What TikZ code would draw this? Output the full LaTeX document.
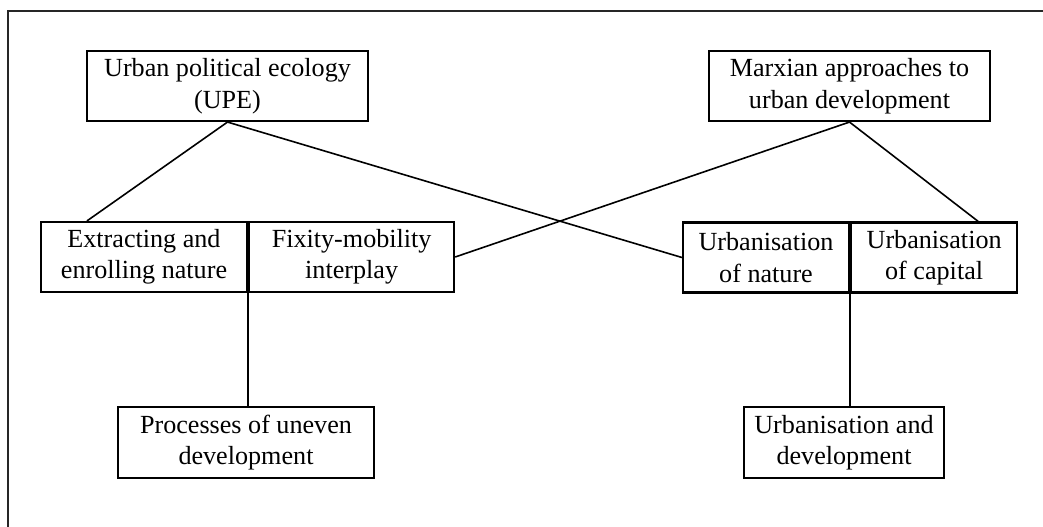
\documentclass[tikz,border=0pt]{standalone}
\usepackage{fontspec}
\setmainfont{Liberation Serif}
\usetikzlibrary{calc}
\tikzset{
  concept/.style={draw=black, line width=1.6pt, inner sep=0pt, align=center,
    minimum height=52.5pt, font=\fontsize{19.6}{23.6}\selectfont},
  link/.style={draw=black, line width=1.2pt},
  frame/.style={draw=black!85, line width=1.1pt}
}
\begin{document}
\begin{tikzpicture}[x=0.75pt,y=-0.75pt]
  \useasboundingbox (0,0) rectangle (1043,527);
  % outer frame (top and left edges)
  \coordinate (fr-tl) at (8,11);
  \coordinate (fr-tr) at (1043,11);
  \coordinate (fr-bl) at (8,527);
  \draw[frame] (fr-bl) -- (fr-tl) -- (fr-tr);

  % top row
  \node[concept, minimum width=210.75pt] (upe) at (227.5,86)
    {Urban political ecology\\(UPE)};
  \node[concept, minimum width=210.75pt] (marx) at (849.5,86)
    {Marxian approaches to\\urban development};

  % middle row, left pair
  \node[concept, minimum width=154.5pt] (extr) at (144,257)
    {Extracting and\\enrolling nature};
  \node[concept, minimum width=153.75pt, anchor=west] (fix) at (extr.east)
    {Fixity-mobility\\interplay};

  % middle row, right pair
  \node[concept, minimum width=124.5pt] (unat) at (766,257.5)
    {Urbanisation\\of nature};
  \node[concept, minimum width=124.5pt, anchor=west] (ucap) at (unat.east)
    {Urbanisation\\of capital};

  % bottom row
  \node[concept, minimum width=192pt, minimum height=53.25pt] (uneven) at (246,442.5)
    {Processes of uneven\\development};
  \node[concept, minimum width=150pt, minimum height=53.25pt] (udev) at (844,442.5)
    {Urbanisation and\\development};

  % connectors
  \draw[link] (upe.south) -- ($(extr.north west)+(47,0)$);
  \draw[link] (upe.south) -- (unat.west);
  \draw[link] (marx.south) -- (fix.east);
  \draw[link] (marx.south) -- ($(ucap.north east)+(-40,0)$);
  \draw[link] (extr.south east) -- (extr.south east |- uneven.north);
  \draw[link] (unat.south east) -- (unat.south east |- udev.north);
\end{tikzpicture}
\end{document}
